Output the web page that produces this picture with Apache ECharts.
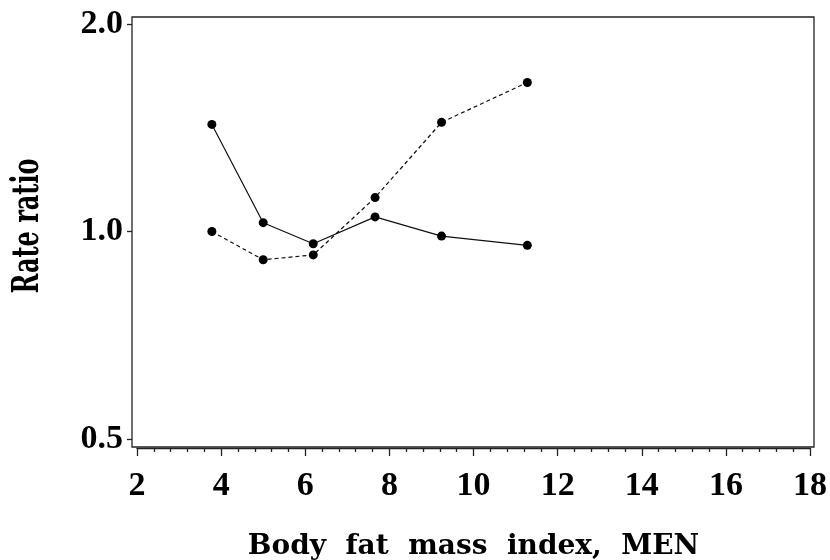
<!DOCTYPE html>
<html>
<head>
<meta charset="utf-8">
<script src="https://cdn.jsdelivr.net/npm/echarts@6/dist/echarts.min.js"></script>
<style>html,body{margin:0;padding:0;background:#fff;}#c{width:830px;height:560px;}</style>
</head>
<body>
<div id="c"></div>
<script>
const xValues = [3.78, 5.0, 6.19, 7.66, 9.24, 11.28];
const solidSeries = [1.43, 1.03, 0.96, 1.05, 0.985, 0.955];
const dashedSeries = [1.0, 0.91, 0.925, 1.12, 1.44, 1.645];
const yTickValues = [0.5, 1.0, 2.0];
const xTitle = 'Body  fat  mass  index,  MEN';
const yTitle = 'Rate ratio';

const chart = echarts.init(document.getElementById('c'), null, {renderer: 'canvas'});
const labelFont = {fontFamily: 'Liberation Serif', fontWeight: 'bold', fontSize: 34, color: '#000'};
const pairs = a => xValues.map((x, i) => [x, a[i]]);

chart.setOption({
  animation: false,
  backgroundColor: '#fff',
  grid: [
    {left: 132, right: 16, top: 17, bottom: 113, show: true, borderColor: '#222', borderWidth: 1.3, backgroundColor: 'transparent', outerBoundsMode: 'none', containLabel: false},
    {left: 137, right: 20, top: 17, bottom: 113, outerBoundsMode: 'none', containLabel: false}
  ],
  xAxis: [
    {gridIndex: 0, type: 'value', show: false, min: 0, max: 1},
    {gridIndex: 1, type: 'value', min: 2, max: 18, interval: 2, offset: 1,
     axisLine: {show: true, lineStyle: {color: '#222', width: 1.3}},
     axisTick: {show: true, length: 8, lineStyle: {color: '#222', width: 1.3}},
     minorTick: {show: true, splitNumber: 5, length: 4, lineStyle: {color: '#222', width: 1.3}},
     splitLine: {show: false},
     axisLabel: Object.assign({margin: 21}, labelFont),
     name: xTitle, nameLocation: 'middle', nameGap: 85,
     nameTextStyle: {fontFamily: 'DejaVu Serif', fontWeight: 'bold', fontSize: 28, color: '#000'}
    }
  ],
  yAxis: [
    {gridIndex: 0, type: 'value', show: false, min: 0, max: 1},
    {gridIndex: 1, type: 'log', logBase: 2, min: 0.487, max: 2.047, offset: 5,
     axisLine: {show: false},
     axisTick: {show: true, length: 5, customValues: yTickValues, lineStyle: {color: '#222', width: 1.3}},
     splitLine: {show: false},
     minorTick: {show: false},
     axisLabel: Object.assign({margin: 9, customValues: yTickValues, formatter: v => Number(v).toFixed(1)}, labelFont)
    }
  ],
  graphic: [{
    type: 'text', x: 28, y: 226, rotation: Math.PI / 2, scaleY: 1.55,
    style: {text: yTitle, fontFamily: 'DejaVu Serif', fontWeight: 'bold', fontSize: 24, fill: '#000', align: 'center', verticalAlign: 'middle'}
  }],
  series: [
    {type: 'line', xAxisIndex: 1, yAxisIndex: 1, data: pairs(solidSeries),
     symbol: 'circle', symbolSize: 9, itemStyle: {color: '#000'},
     lineStyle: {color: '#111', width: 1.2, type: 'solid'}},
    {type: 'line', xAxisIndex: 1, yAxisIndex: 1, data: pairs(dashedSeries),
     symbol: 'circle', symbolSize: 9, itemStyle: {color: '#000'},
     lineStyle: {color: '#111', width: 1.2, type: [4, 3]}}
  ]
});
</script>
</body>
</html>
